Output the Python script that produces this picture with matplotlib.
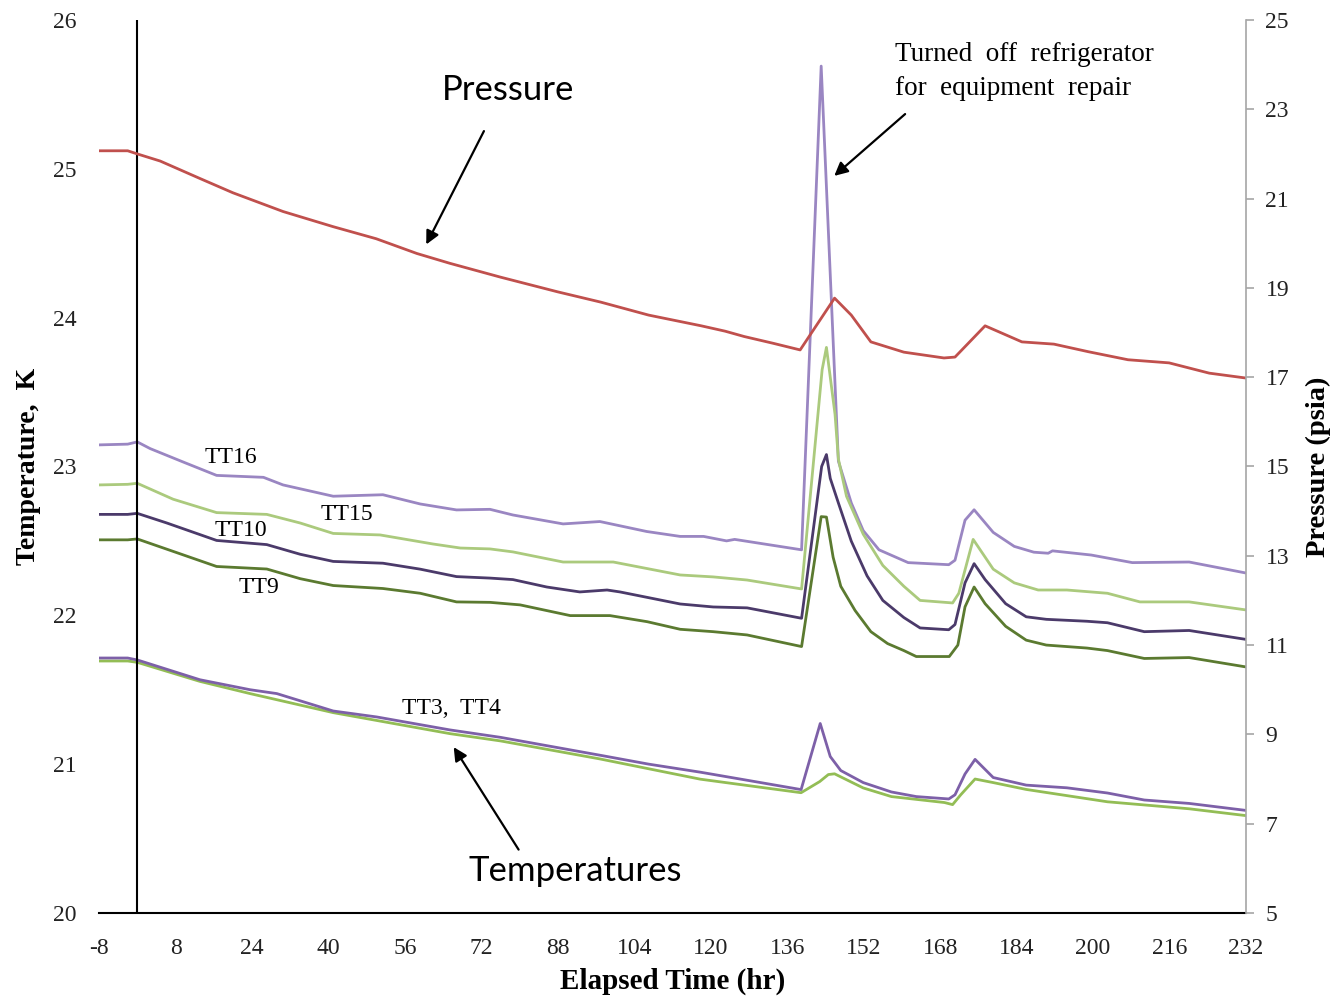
import matplotlib
matplotlib.use("Agg")
import matplotlib.pyplot as plt

plt.rcParams["axes.unicode_minus"] = False

# Tank pressure (psia, right axis)
time_p = [-8, -2, 0, 4.8, 13.1, 20.0, 30.5, 41.0, 50.0, 58.5, 65.4, 76, 88, 97, 107,
          118, 123, 127, 133, 138.7, 145.9, 149.4, 153.5, 160.4, 168.8, 171.1, 177.4,
          185.1, 191.8, 199, 207.3, 215.9, 224.3, 232]
pressure = [22.07, 22.07, 22.00, 21.84, 21.45, 21.13, 20.71, 20.37, 20.10, 19.77, 19.55,
            19.24, 18.91, 18.68, 18.39, 18.15, 18.03, 17.91, 17.76, 17.61, 18.77, 18.39,
            17.79, 17.56, 17.43, 17.45, 18.15, 17.79, 17.74, 17.57, 17.39, 17.32, 17.09, 16.98]

# Sensor temperatures (K, left axis)
time_tt16 = [-8, -2, 0, 2.7, 9.6, 16.6, 26.4, 30.5, 41, 51.4, 59.2, 66.8, 73.8, 78.6, 89.1,
             96.8, 106.6, 113.6, 118.5, 123.3, 125, 133, 139.0, 143.1, 146.7, 149.4, 151.9,
             155.2, 161.3, 169.8, 171.1, 173.2, 175.1, 179.1, 183.5, 187.6, 190.6, 191.5,
             199.6, 208.2, 220.1, 232]
tt16 = [23.145, 23.15, 23.165, 23.12, 23.03, 22.94, 22.927, 22.876, 22.80, 22.81, 22.748,
        22.708, 22.712, 22.674, 22.614, 22.63, 22.563, 22.53, 22.53, 22.50, 22.51, 22.47,
        22.44, 25.69, 23.036, 22.755, 22.569, 22.44, 22.354, 22.34, 22.37, 22.639, 22.709,
        22.557, 22.463, 22.424, 22.417, 22.433, 22.405, 22.354, 22.358, 22.284]

time_tt15 = [-8, -2, 0, 7.5, 16.6, 27.1, 34.1, 41, 50.8, 61.9, 67.6, 73.8, 78.6, 89.1, 99.6,
             113.6, 120.5, 127.6, 139.0, 143.3, 144.2, 146.0, 146.7, 148.4, 151.9, 156.0,
             160.4, 163.8, 170.6, 171.9, 174.9, 179.1, 183.5, 188.5, 194.5, 203.0, 209.8,
             220.1, 232]
tt15 = [22.876, 22.88, 22.887, 22.78, 22.69, 22.678, 22.62, 22.55, 22.54, 22.479, 22.452,
        22.446, 22.426, 22.358, 22.358, 22.271, 22.258, 22.237, 22.177, 23.65, 23.80, 23.35,
        23.05, 22.80, 22.545, 22.335, 22.195, 22.10, 22.083, 22.148, 22.51, 22.31, 22.218,
        22.17, 22.17, 22.148, 22.09, 22.09, 22.036]

time_tt10 = [-8, -2, 0, 6.2, 16.6, 27.1, 34.1, 41, 51.4, 59.2, 66.8, 73.8, 78.6, 85.7, 92.6,
             98.3, 101.0, 113.6, 120.5, 127.6, 139.0, 143.2, 144.2, 145.0, 146.7, 149.4,
             152.7, 156.0, 160.4, 163.8, 169.8, 171.1, 173.2, 175.1, 177.4, 181.7, 186.0,
             190.2, 198.7, 203.0, 210.7, 220.1, 232]
tt10 = [22.678, 22.678, 22.685, 22.62, 22.503, 22.475, 22.41, 22.362, 22.35, 22.31, 22.26,
        22.25, 22.24, 22.19, 22.157, 22.17, 22.157, 22.076, 22.056, 22.05, 21.98, 23.0,
        23.08, 22.92, 22.755, 22.498, 22.265, 22.10, 21.985, 21.915, 21.903, 21.938, 22.218,
        22.347, 22.24, 22.078, 21.99, 21.973, 21.96, 21.95, 21.89, 21.898, 21.838]

time_tt9 = [-8, -2, 0, 6.2, 16.6, 27.1, 34.1, 41, 51.4, 59.2, 66.8, 73.8, 80.1, 90.6, 98.9,
            106.7, 113.6, 120.5, 127.6, 139.0, 143.1, 144.2, 145.6, 147.2, 150.2, 153.5,
            157.0, 160.4, 163.0, 169.9, 171.7, 173.2, 175.1, 177.4, 181.7, 186.0, 190.2,
            198.7, 203.0, 210.7, 220.1, 232]
tt9 = [22.507, 22.507, 22.513, 22.444, 22.328, 22.311, 22.246, 22.20, 22.18, 22.148, 22.09,
       22.087, 22.07, 21.998, 21.998, 21.957, 21.906, 21.89, 21.868, 21.79, 22.663, 22.66,
       22.39, 22.195, 22.032, 21.89, 21.81, 21.763, 21.723, 21.723, 21.80, 22.057, 22.19,
       22.078, 21.926, 21.833, 21.80, 21.78, 21.763, 21.71, 21.716, 21.653]

time_tt3 = [-8, -2, 0, 13.1, 23.6, 29.2, 41, 50.1, 65.4, 76, 96.8, 107, 117.8, 126.3, 138.9,
            142.9, 145.0, 147.2, 151.9, 157.8, 163.0, 169.8, 171.1, 173.2, 175.3, 179.1,
            186.0, 194.5, 203.0, 210.7, 220.1, 232]
tt3 = [21.713, 21.713, 21.70, 21.567, 21.50, 21.474, 21.357, 21.317, 21.23, 21.18, 21.06,
       21.00, 20.946, 20.899, 20.829, 21.273, 21.051, 20.957, 20.876, 20.813, 20.782, 20.766,
       20.794, 20.934, 21.032, 20.91, 20.859, 20.841, 20.806, 20.759, 20.736, 20.689]

time_tt4 = [-8, -2, 0, 13.1, 23.6, 41, 65.4, 76, 96.8, 117.8, 138.9, 142.8, 144.6, 145.9,
            151.9, 157.8, 168.9, 170.6, 172.3, 175.3, 179.1, 186.0, 203.0, 220.1, 232]
tt4 = [21.693, 21.693, 21.684, 21.556, 21.474, 21.346, 21.205, 21.156, 21.035, 20.899,
       20.808, 20.883, 20.93, 20.935, 20.84, 20.782, 20.742, 20.728, 20.794, 20.90, 20.876,
       20.83, 20.747, 20.70, 20.654]

x_ticks = list(range(-8, 233, 16))

serif = "Liberation Serif"
sans = "Lato"

fig = plt.figure(figsize=(13.42, 9.98), dpi=100)
ax = fig.add_axes([0.0738, 0.0852, 0.8547, 0.8948])
ax2 = ax.twinx()

lw = 2.0
ax.plot(time_tt16, tt16, color="#9a86c2", lw=lw)
ax.plot(time_tt15, tt15, color="#abca7d", lw=lw)
ax.plot(time_tt10, tt10, color="#4b3a6a", lw=lw)
ax.plot(time_tt9, tt9, color="#5b7a30", lw=lw)
ax.plot(time_tt4, tt4, color="#93bd55", lw=lw)
ax.plot(time_tt3, tt3, color="#7d60a8", lw=lw)
ax2.plot(time_p, pressure, color="#c0504d", lw=lw)

# marker line at t = 0
ax.axvline(0, color="black", lw=1.5)

ax.set_xlim(-8, 232)
ax.set_ylim(20, 26)
ax2.set_ylim(5, 25)
ax.set_xticks(x_ticks)
ax.set_yticks(range(20, 27))
ax2.set_yticks(range(5, 26, 2))

for s in ["top", "left", "right"]:
    ax.spines[s].set_visible(False)
ax.spines["bottom"].set_linewidth(1.5)
for s in ["top", "left", "bottom"]:
    ax2.spines[s].set_visible(False)
ax2.spines["right"].set_color("#a6a6a6")
ax2.spines["right"].set_linewidth(1.2)

ax.tick_params(axis="both", length=0, labelsize=17, pad=16)
ax.tick_params(axis="x", pad=18)
ax2.tick_params(axis="y", length=6, width=1.2, color="#a6a6a6", labelsize=17, pad=8)
for lab in ax.get_xticklabels() + ax.get_yticklabels() + ax2.get_yticklabels():
    lab.set_fontfamily(serif)
    lab.set_color("#222222")

ax.set_xlabel("Elapsed Time (hr)", fontfamily=serif, fontsize=21, fontweight="bold", labelpad=6)
ax.set_ylabel("Temperature,  K", fontfamily=serif, fontsize=20, fontweight="bold", labelpad=9)
ax2.set_ylabel("Pressure (psia)", fontfamily=serif, fontsize=20.5, fontweight="bold", labelpad=12)

# sensor labels
tkw = dict(fontfamily=serif, fontsize=17, ha="center", va="center")
ax.text(19.6, 23.057, "TT16", **tkw)
ax.text(43.9, 22.674, "TT15", **tkw)
ax.text(21.7, 22.573, "TT10", **tkw)
ax.text(25.5, 22.19, "TT9", **tkw)
ax.text(65.7, 21.377, "TT3,  TT4", **tkw)

arrow = dict(arrowstyle="-|>", color="black", lw=1.6, mutation_scale=20)
ax.annotate("", xy=(60.2, 24.475), xytext=(72.8, 25.27), arrowprops=arrow)
ax.text(77.6, 25.53, "Pressure", fontfamily=sans, fontsize=25, ha="center", va="center")

ax.annotate("", xy=(65.9, 21.13), xytext=(80.1, 20.41), arrowprops=arrow)
ax.text(91.6, 20.28, "Temperatures", fontfamily=sans, fontsize=25, ha="center", va="center")

ax.annotate("", xy=(145.4, 24.94), xytext=(161.1, 25.38), arrowprops=arrow)
ax.text(158.6, 25.85, "Turned  off  refrigerator\nfor  equipment  repair", fontfamily=serif,
        fontsize=19.5, ha="left", va="top", linespacing=1.45)

fig.savefig("out.png", dpi=100)
